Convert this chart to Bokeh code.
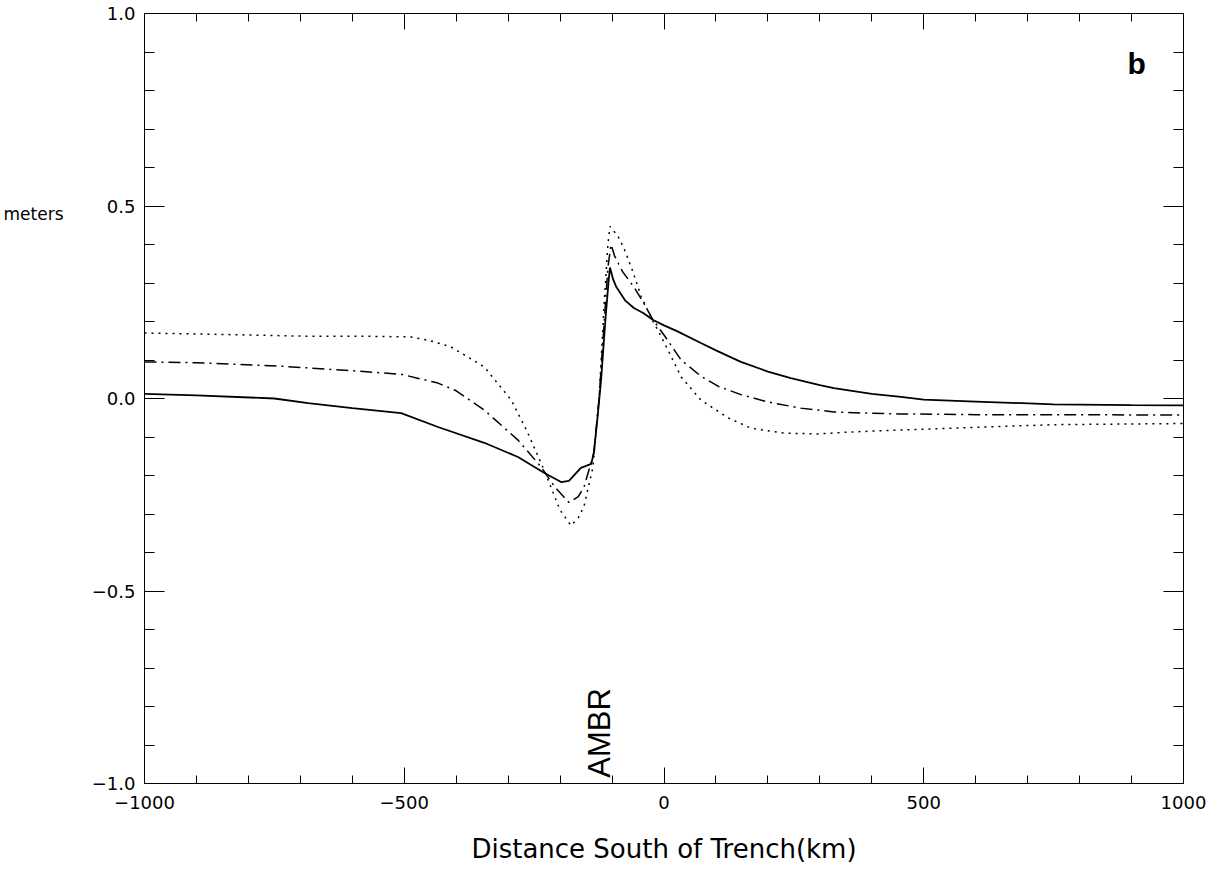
import numpy as np
from bokeh.plotting import figure
from bokeh.models import FixedTicker, LinearAxis, Label, Range1d, CustomLabelingPolicy
from bokeh.embed import file_html
from bokeh.resources import INLINE

# ---- data ----
solid_x = [-1000, -900, -750, -685, -600, -506, -435, -346, -281, -231, -198, -183, -160, -140,
           -135, -128, -121, -113, -107, -104, -98, -92, -75, -58, -40, -21, 0, 25, 71, 100,
           148, 200, 244, 300, 327, 400, 456, 500, 600, 750, 900, 1000]
solid_y = [0.012, 0.008, 0.0, -0.012, -0.025, -0.038, -0.074, -0.115, -0.152, -0.193, -0.217, -0.214,
           -0.18, -0.17, -0.14, -0.05, 0.05, 0.2, 0.30, 0.34, 0.31, 0.29, 0.255, 0.235, 0.222,
           0.204, 0.19, 0.175, 0.144, 0.125, 0.095, 0.07, 0.053, 0.035, 0.027, 0.012, 0.004,
           -0.003, -0.008, -0.015, -0.017, -0.018]

dashdot_x = [-1000, -900, -737, -600, -506, -435, -400, -346, -281, -237, -210, -183, -165, -154,
             -135, -125, -115, -108, -102, -95, -80, -58, -40, -21, 0, 33, 71, 104, 148, 200,
             263, 327, 392, 450, 600, 750, 1000]
dashdot_y = [0.095, 0.093, 0.084, 0.072, 0.063, 0.04, 0.02, -0.03, -0.108, -0.177, -0.23, -0.27,
             -0.255, -0.23, -0.142, 0.0, 0.2, 0.34, 0.40, 0.37, 0.33, 0.29, 0.25, 0.204, 0.165,
             0.10, 0.058, 0.032, 0.01, -0.009, -0.025, -0.035, -0.038, -0.04, -0.042, -0.042, -0.043]

dotted_x = [-1000, -800, -698, -600, -487, -450, -410, -346, -294, -262, -231, -200, -179, -165,
            -154, -137, -125, -115, -108, -104, -97, -90, -77, -60, -44, -21, -12, 8, 33, 71,
            123, 167, 231, 296, 360, 450, 600, 750, 1000]
dotted_y = [0.17, 0.165, 0.162, 0.162, 0.16, 0.15, 0.134, 0.082, -0.004, -0.09, -0.185, -0.29,
            -0.33, -0.31, -0.28, -0.18, 0.0, 0.25, 0.40, 0.447, 0.435, 0.425, 0.39, 0.33, 0.265,
            0.2, 0.178, 0.125, 0.056, -0.004, -0.05, -0.077, -0.09, -0.092, -0.087, -0.082,
            -0.075, -0.068, -0.065]

x_ticks = [-1000, -500, 0, 500, 1000]
x_tick_labels = ["\u22121000", "\u2212500", "0", "500", "1000"]
y_ticks = [-1.0, -0.5, 0.0, 0.5, 1.0]
y_tick_labels = ["\u22121.0", "\u22120.5", "0.0", "0.5", "1.0"]

y_title = "meters"
y_title_pos = 0.48
x_title = "Distance South of Trench(km)"
panel_tag = "b"
ridge_label = "AMBR"

FONT = "DejaVu Sans"

p = figure(width=1206, height=866, output_backend="svg", toolbar_location=None,
           x_range=Range1d(-1000, 1000), y_range=Range1d(-1.0, 1.0),
           min_border_left=143, min_border_top=13, min_border_right=23, min_border_bottom=82)
p.xgrid.visible = False
p.ygrid.visible = False
p.outline_line_color = "black"
p.background_fill_color = "white"
p.border_fill_color = "white"

x_minor = [v for v in range(-1000, 1001, 100) if v not in x_ticks]
y_minor = [round(v, 2) for v in np.arange(-1.0, 1.001, 0.1) if round(v, 2) not in y_ticks]

NO_LABELS = CustomLabelingPolicy(code="""
try { for (const i of Array.from(indices.ones())) { indices.unset(i) } } catch (e) {}
return indices
""")

def style_x(ax, labels=True):
    ax.ticker = FixedTicker(ticks=x_ticks, minor_ticks=x_minor)
    ax.major_tick_in = 16
    ax.major_tick_out = 0
    ax.minor_tick_in = 8
    ax.minor_tick_out = 0
    ax.axis_line_color = "black"
    ax.major_tick_line_color = "black"
    ax.minor_tick_line_color = "black"
    if labels:
        ax.major_label_overrides = {t: l for t, l in zip(x_ticks, x_tick_labels)}
        ax.major_label_text_font = FONT
        ax.major_label_text_font_size = "18px"
        ax.major_label_text_color = "black"
        ax.major_label_standoff = 12
    else:
        ax.major_label_policy = NO_LABELS
        ax.major_label_text_font_size = "0px"
        ax.major_label_standoff = 0

def style_y(ax, labels=True):
    ax.ticker = FixedTicker(ticks=y_ticks, minor_ticks=y_minor)
    ax.major_tick_in = 20
    ax.major_tick_out = 0
    ax.minor_tick_in = 10
    ax.minor_tick_out = 0
    ax.axis_line_color = "black"
    ax.major_tick_line_color = "black"
    ax.minor_tick_line_color = "black"
    if labels:
        ax.major_label_overrides = {t: l for t, l in zip(y_ticks, y_tick_labels)}
        ax.major_label_text_font = FONT
        ax.major_label_text_font_size = "18px"
        ax.major_label_text_color = "black"
        ax.major_label_standoff = 9
    else:
        ax.major_label_policy = NO_LABELS
        ax.major_label_text_font_size = "0px"
        ax.major_label_standoff = 0

style_x(p.xaxis[0])
style_y(p.yaxis[0])
p.xaxis[0].axis_label = x_title
p.xaxis[0].axis_label_text_font = FONT
p.xaxis[0].axis_label_text_font_size = "26px"
p.xaxis[0].axis_label_text_font_style = "normal"
p.xaxis[0].axis_label_text_color = "black"
p.xaxis[0].axis_label_standoff = 22

top = LinearAxis()
style_x(top, labels=False)
p.add_layout(top, "above")
right = LinearAxis()
style_y(right, labels=False)
p.add_layout(right, "right")

# horizontal "meters" title as an extra left axis carrying one label
title_axis = LinearAxis(ticker=FixedTicker(ticks=[y_title_pos], minor_ticks=[]),
                        major_label_overrides={y_title_pos: y_title})
title_axis.axis_line_color = None
title_axis.major_tick_line_color = None
title_axis.minor_tick_line_color = None
title_axis.major_tick_in = 0
title_axis.major_tick_out = 0
title_axis.major_label_text_font = FONT
title_axis.major_label_text_font_size = "17px"
title_axis.major_label_text_color = "black"
title_axis.major_label_standoff = 25
p.add_layout(title_axis, "left")

p.line(dotted_x, dotted_y, line_color="black", line_width=1.5, line_dash="2 5")
p.line(dashdot_x, dashdot_y, line_color="black", line_width=1.5, line_dash="12 5 2 5")
p.line(solid_x, solid_y, line_color="black", line_width=1.8)

p.add_layout(Label(x=910, y=0.87, text=panel_tag, text_font="Liberation Sans", text_font_size="30px",
                   text_font_style="bold", text_color="black", text_align="center",
                   text_baseline="alphabetic"))
p.add_layout(Label(x=-125, y=-0.985, text=ridge_label, text_font="Liberation Sans", text_font_size="31px",
                   text_color="black", text_align="left", text_baseline="alphabetic",
                   angle=np.pi / 2))

open("out.html", "w").write(file_html(p, INLINE))
